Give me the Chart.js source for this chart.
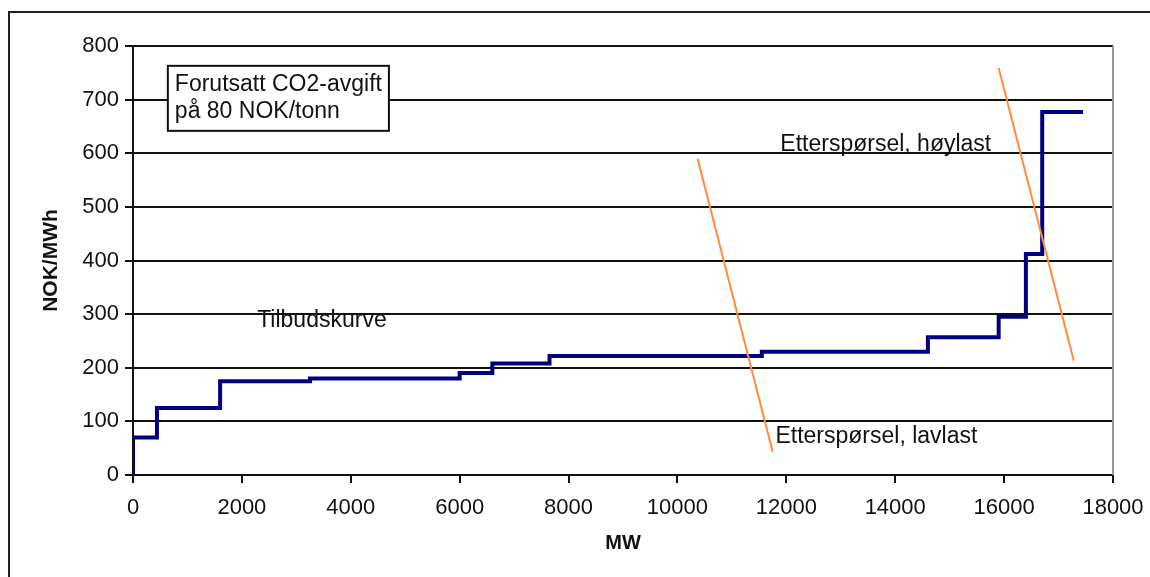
<!DOCTYPE html>
<html>
<head>
<meta charset="utf-8">
<script src="https://cdn.jsdelivr.net/npm/chart.js@4/dist/chart.umd.min.js"></script>
<style>
body{margin:0;background:#fff;}
#wrap{width:1150px;height:577px;position:relative;}
</style>
</head>
<body>
<div id="wrap"><canvas id="supplyChart" width="1150" height="577"></canvas></div>
<script>
// Supply curve (Tilbudskurve), step points: MW where the step starts and its price
var supplyMW    = [0, 0, 440, 1600, 3250, 6000, 6600, 7650, 11550, 14600, 15900, 16400, 16700, 17450];
var supplyPrice = [0, 70, 125, 175, 180, 190, 208, 222, 230, 257, 295, 412, 677, 677];

// Demand lines
var lavlastMW    = [10370, 11750];
var lavlastPrice = [590, 43];
var hoylastMW    = [15900, 17280];
var hoylastPrice = [759, 213];

// Axis ticks
var xTicks = [0, 2000, 4000, 6000, 8000, 10000, 12000, 14000, 16000, 18000];
var yTicks = [0, 100, 200, 300, 400, 500, 600, 700, 800];

var fontName = "'Liberation Sans', Arial, sans-serif";

function toPoints(xs, ys)
{
    var pts = [];
    for (var i = 0; i < xs.length; i++) {
        pts.push({x: xs[i], y: ys[i]});
    }
    return pts;
}

// Frame, plot border and the text labels
var decorPlugin = {
    id: 'decor',
    beforeDraw: function(chart) {
        var ctx = chart.ctx;
        ctx.save();
        ctx.fillStyle = '#fff';
        ctx.fillRect(0, 0, chart.width, chart.height);
        ctx.strokeStyle = '#222';
        ctx.lineWidth = 2;
        ctx.beginPath();
        ctx.moveTo(9, chart.height);
        ctx.lineTo(9, 12);
        ctx.lineTo(chart.width, 12);
        ctx.stroke();
        ctx.restore();
    },
    afterDraw: function(chart) {
        var ctx = chart.ctx;
        var xs = chart.scales.x, ys = chart.scales.y;
        var area = chart.chartArea;
        ctx.save();
        // gray right edge of plot area
        ctx.strokeStyle = '#9a9a9a';
        ctx.lineWidth = 2;
        ctx.beginPath();
        ctx.moveTo(area.right, area.top);
        ctx.lineTo(area.right, area.bottom);
        ctx.stroke();

        ctx.font = '23px ' + fontName;
        ctx.fillStyle = '#111';
        ctx.textBaseline = 'middle';

        ctx.textAlign = 'center';
        ctx.fillText('Tilbudskurve', xs.getPixelForValue(3470), ys.getPixelForValue(287));

        ctx.textAlign = 'left';
        ctx.fillText('Etterspørsel, høylast', xs.getPixelForValue(11890), ys.getPixelForValue(616));
        ctx.fillText('Etterspørsel, lavlast', xs.getPixelForValue(11800), ys.getPixelForValue(71));

        // note box
        var bx = xs.getPixelForValue(640), by = ys.getPixelForValue(763);
        var line1 = 'Forutsatt CO2-avgift', line2 = 'på 80 NOK/tonn';
        var bw = ctx.measureText(line1).width + 14;
        ctx.fillStyle = '#fff';
        ctx.fillRect(bx, by, bw, 65);
        ctx.strokeStyle = '#111';
        ctx.lineWidth = 2;
        ctx.strokeRect(bx, by, bw, 65);
        ctx.fillStyle = '#111';
        ctx.fillText(line1, bx + 7, by + 19);
        ctx.fillText(line2, bx + 7, by + 46);
        ctx.restore();
    }
};

var ctx = document.getElementById('supplyChart');
var chart = new Chart(ctx, {
    type: 'scatter',
    data: {
        datasets: [
            {label: 'Tilbudskurve', data: toPoints(supplyMW, supplyPrice), showLine: true,
             stepped: 'before', borderColor: '#000080', borderWidth: 4, pointRadius: 0, order: 1},
            {label: 'Etterspørsel, lavlast', data: toPoints(lavlastMW, lavlastPrice), showLine: true,
             borderColor: '#ff8c3c', borderWidth: 2, pointRadius: 0, order: 0},
            {label: 'Etterspørsel, høylast', data: toPoints(hoylastMW, hoylastPrice), showLine: true,
             borderColor: '#ff8c3c', borderWidth: 2, pointRadius: 0, order: 0}
        ]
    },
    options: {
        responsive: false,
        animation: false,
        layout: {padding: {left: 0, top: 46, right: 37, bottom: 0}},
        plugins: {legend: {display: false}, tooltip: {enabled: false}},
        scales: {
            x: {
                type: 'linear', min: 0, max: 18000,
                afterBuildTicks: function(scale) { scale.ticks = xTicks.map(function(v){ return {value: v}; }); },
                afterFit: function(scale) {
                    scale.height = 102;
                    scale.paddingLeft = 0;
                    scale.paddingRight = 0;
                },
                grid: {drawOnChartArea: false, drawTicks: true, tickLength: 8, color: '#111', lineWidth: 2},
                border: {display: true, color: '#111', width: 2},
                ticks: {padding: 12, color: '#111', font: {family: fontName, size: 22}, maxRotation: 0,
                        callback: function(v) { return String(v); }},
                title: {display: true, text: 'MW', color: '#111', font: {family: fontName, size: 20, weight: 'bold'},
                        padding: {top: 0, bottom: 22}}
            },
            y: {
                type: 'linear', min: 0, max: 800,
                afterBuildTicks: function(scale) { scale.ticks = yTicks.map(function(v){ return {value: v}; }); },
                afterFit: function(scale) { scale.width = 133; },
                grid: {color: '#111', lineWidth: 2, tickLength: 8},
                border: {display: true, color: '#111', width: 2},
                ticks: {padding: 6, color: '#111', font: {family: fontName, size: 22},
                        callback: function(v) { return String(v); }},
                title: {display: true, text: 'NOK/MWh', color: '#111', font: {family: fontName, size: 21, weight: 'bold'},
                        padding: {top: 39, bottom: 0}}
            }
        }
    },
    plugins: [decorPlugin]
});
</script>
</body>
</html>
